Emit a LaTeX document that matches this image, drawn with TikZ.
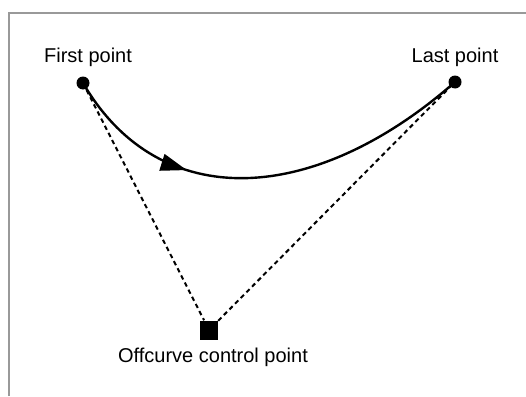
\documentclass[tikz,border=0pt]{standalone}
\usepackage{fontspec}
\setmainfont{Liberation Sans}
\usetikzlibrary{arrows.meta,decorations.markings}
\begin{document}
\begin{tikzpicture}[x=1pt,y=-1pt,
  framecol/.style={draw=black!40,line width=2pt},
  ptdot/.style={circle,fill=black,inner sep=0pt,minimum size=13pt},
  ctrlsq/.style={rectangle,fill=black,inner sep=0pt,minimum width=18pt,minimum height=19pt},
  lbl/.style={font=\fontsize{20}{24}\selectfont,anchor=base,inner sep=0pt},
  guide/.style={draw=black,line width=2pt,dash pattern=on 4.5pt off 3.5pt},
  curveline/.style={draw=black,line width=2.4pt,
    postaction={decorate,decoration={markings,
      mark=at position 0.32 with {\arrow{Triangle[length=26pt,width=17pt]}}}}}]
\useasboundingbox (0,0) rectangle (526,396);
\fill[white] (0,0) rectangle (526,396);
\draw[framecol] (9,396) -- (9,13) -- (526,13);
\node[ptdot] (first) at (83,83) {};
\node[ptdot] (last) at (455,82) {};
\node[ctrlsq] (ctrl) at (209,330) {};
\node[lbl] (firstlbl) at (88,62) {First point};
\node[lbl] (lastlbl) at (455,62) {Last point};
\node[lbl] (ctrllbl) at (213,362) {Offcurve control point};
\draw[guide] (first.center) -- (ctrl);
\draw[guide] (ctrl) -- (last.center);
\draw[curveline] (first.center) .. controls (160,215) and (315,205) .. (last.center);
\end{tikzpicture}
\end{document}
